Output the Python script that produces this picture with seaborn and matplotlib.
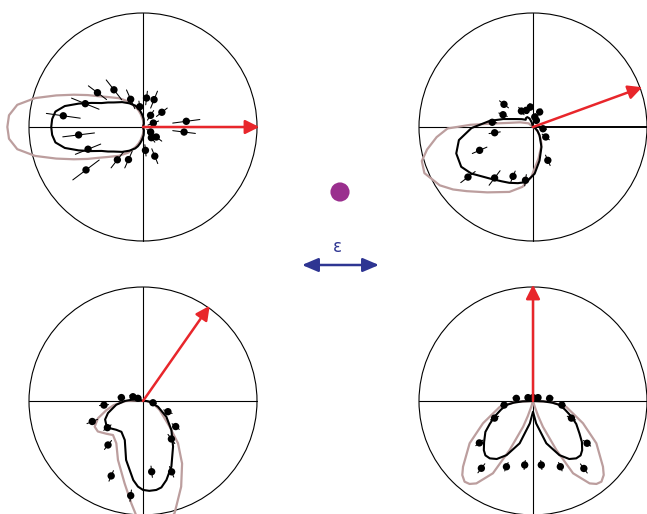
import numpy as np
import matplotlib
matplotlib.use("Agg")
import matplotlib.pyplot as plt
import seaborn as sns

sns.set_style("white")
plt.rcParams["font.family"] = ["DejaVu Sans"]

# ---------------- data (polar angles in degrees, radii in units of the circle) ----------------
# Panel 1: field along 0 deg
p1_field_deg = 0.0
p1_black_deg = [60, 75, 85, 90, 95, 100, 105, 110, 120, 130, 140, 145, 150, 155, 160, 165, 170, 175, 180,
                185, 190, 195, 200, 205, 210, 215, 220, 230, 240, 250, 255, 260, 265, 270, 275, 285, 300]
p1_black_r = [0.0, 0.03, 0.07, 0.09, 0.115, 0.145, 0.175, 0.20, 0.24, 0.285, 0.335, 0.375, 0.42, 0.50, 0.60,
              0.71, 0.78, 0.80, 0.805,
              0.80, 0.78, 0.71, 0.60, 0.50, 0.42, 0.375, 0.335, 0.285, 0.24, 0.20, 0.175, 0.145, 0.115, 0.09,
              0.07, 0.03, 0.0]
p1_pink_deg = [70, 80, 90, 95, 100, 105, 110, 120, 130, 140, 145, 150, 155, 160, 165, 170, 175, 180,
               185, 190, 195, 200, 205, 210, 215, 220, 230, 240, 250, 255, 260, 265, 270, 280, 290]
p1_pink_r = [0.0, 0.03, 0.06, 0.08, 0.115, 0.15, 0.185, 0.26, 0.33, 0.41, 0.47, 0.56, 0.67, 0.81, 0.98, 1.12,
             1.18, 1.19,
             1.18, 1.12, 0.98, 0.81, 0.67, 0.56, 0.47, 0.41, 0.33, 0.26, 0.185, 0.15, 0.115, 0.08, 0.06, 0.03,
             0.0]
p1_pt_deg = [143, 128, 158, 172, 187, 202, 217, 232, 246, 276, 292, 308, 323, 327, 21, 57, 38, 83, 68, 114,
             99, 7.5, 353]
p1_pt_r = [0.50, 0.414, 0.546, 0.706, 0.569, 0.52, 0.626, 0.365, 0.313, 0.206, 0.276, 0.119, 0.146, 0.08,
           0.097, 0.122, 0.21, 0.256, 0.259, 0.266, 0.18, 0.383, 0.363]
p1_pt_err = [0.10, 0.11, 0.13, 0.15, 0.14, 0.12, 0.145, 0.09, 0.08, 0.05, 0.07, 0.05, 0.06, 0.04, 0.05, 0.05,
             0.06, 0.06, 0.08, 0.09, 0.05, 0.12, 0.10]

# Panel 2: field along 20 deg
p2_field_deg = 20.0
p2_black_deg = [95, 105, 112, 120, 128, 135, 145, 155, 165, 172, 181, 190, 199, 209, 217, 230, 240, 247, 255,
                263, 272, 281, 293, 308, 320, 335, 350]
p2_black_r = [0.0, 0.04, 0.08, 0.10, 0.10, 0.09, 0.12, 0.165, 0.27, 0.384, 0.54, 0.66, 0.712, 0.72, 0.678,
              0.59, 0.55, 0.532, 0.51, 0.486, 0.41, 0.30, 0.19, 0.093, 0.05, 0.02, 0.0]
p2_pink_deg = [120, 140, 150, 160, 170, 175, 178, 181, 186, 192, 197, 203, 212, 218, 224, 235, 250, 260, 268,
               280, 290, 297, 305, 315, 330, 345]
p2_pink_r = [0.0, 0.05, 0.07, 0.12, 0.21, 0.35, 0.55, 0.75, 0.85, 0.95, 1.02, 1.035, 0.965, 0.89, 0.81, 0.70,
             0.606, 0.533, 0.44, 0.28, 0.20, 0.163, 0.11, 0.062, 0.02, 0.0]
p2_pt_deg = [142, 157.7, 126, 97.6, 112, 66, 63, 350, 322, 294, 262, 248, 233, 217.6, 203.6, 188.5, 173.4, 80]
p2_pt_r = [0.323, 0.284, 0.173, 0.177, 0.157, 0.144, 0.065, 0.089, 0.142, 0.32, 0.472, 0.467, 0.56, 0.72,
           0.511, 0.34, 0.36, 0.089]
p2_pt_err = [0.05, 0.04, 0.04, 0.03, 0.03, 0.03, 0.02, 0.03, 0.04, 0.05, 0.05, 0.05, 0.08, 0.08, 0.07, 0.05,
             0.04, 0.03]

# Panel 3: field along 55 deg
p3_field_deg = 55.0
p3_black_deg = [150, 160, 172, 180, 188, 199, 206, 213, 219, 227, 235, 245, 254, 263, 266.6, 270, 274, 278.5,
                282, 286.5, 293.4, 303.4, 314.4, 326, 339, 354, 360, 370]
p3_black_r = [0.0, 0.03, 0.09, 0.16, 0.237, 0.325, 0.37, 0.384, 0.378, 0.345, 0.33, 0.378, 0.538, 0.699, 0.752,
              0.78, 0.79, 0.789, 0.775, 0.723, 0.627, 0.479, 0.356, 0.247, 0.141, 0.058, 0.03, 0.0]
p3_pink_deg = [155, 165, 180, 188, 194, 201, 208, 214, 222, 228.6, 237.8, 247, 257.4, 263.5, 267, 271, 276, 281,
               285.8, 294, 302, 309.6, 316, 331.6, 347, 360, 370]
p3_pink_r = [0.0, 0.03, 0.15, 0.26, 0.331, 0.423, 0.48, 0.478, 0.43, 0.398, 0.439, 0.562, 0.74, 0.904, 1.02,
             1.10, 1.12, 1.10, 1.02, 0.823, 0.647, 0.482, 0.325, 0.166, 0.09, 0.03, 0.0]
p3_pt_deg = [171, 157, 152, 186, 202, 216.8, 231.5, 247, 262.6, 277, 292, 306.8, 322, 336.8, 350]
p3_pt_r = [0.192, 0.096, 0.05, 0.344, 0.48, 0.39, 0.493, 0.714, 0.837, 0.625, 0.67, 0.416, 0.364, 0.238, 0.089]
p3_pt_err = [0.03, 0.03, 0.02, 0.04, 0.05, 0.04, 0.05, 0.05, 0.05, 0.05, 0.05, 0.05, 0.04, 0.04, 0.03]

# Panel 4: field along 90 deg
p4_field_deg = 90.0
p4_black_deg = [180, 182, 185, 188.5, 195, 202, 208, 213, 220, 225, 228.8, 233, 238, 244, 252.5, 262, 270,
                278, 287.5, 296, 302, 307, 311.2, 315, 320, 325, 332, 338, 345, 351.5, 355, 358, 360]
p4_black_r = [0.0, 0.09, 0.17, 0.237, 0.29, 0.363, 0.43, 0.498, 0.56, 0.61, 0.634, 0.63, 0.60, 0.528, 0.389,
              0.198, 0.094,
              0.198, 0.389, 0.528, 0.60, 0.63, 0.634, 0.61, 0.56, 0.498, 0.43, 0.363, 0.29, 0.237, 0.17, 0.09,
              0.0]
p4_pink_deg = [180, 182.4, 190, 204, 213.7, 223.2, 226.3, 229.7, 232.6, 235.5, 241, 244.5, 249, 251, 253, 258,
               282, 287, 289, 291, 295.5, 299, 304.5, 307.4, 310.3, 313.7, 316.8, 326.3, 336, 350, 357.6, 360]
p4_pink_r = [0.0, 0.146, 0.296, 0.48, 0.668, 0.842, 0.898, 0.928, 0.916, 0.877, 0.725, 0.476, 0.242, 0.14,
             0.052, 0.0,
             0.0, 0.052, 0.14, 0.242, 0.476, 0.725, 0.877, 0.916, 0.928, 0.898, 0.842, 0.668, 0.48, 0.296,
             0.146, 0.0]
p4_pt_deg = [171, 9, 188, 352, 204, 336, 218, 322, 232.5, 307, 248, 292.6, 262.6, 277.4, 146, 34, 90]
p4_pt_r = [0.148, 0.148, 0.256, 0.256, 0.369, 0.369, 0.597, 0.602, 0.744, 0.741, 0.622, 0.624, 0.566, 0.566,
           0.053, 0.053, 0.03]
p4_pt_err = [0.03, 0.03, 0.03, 0.03, 0.04, 0.04, 0.04, 0.04, 0.05, 0.05, 0.04, 0.04, 0.04, 0.04, 0.02, 0.02,
             0.02]

panels = [
    dict(center=(143, 127), field=p1_field_deg, black=(p1_black_deg, p1_black_r), pink=(p1_pink_deg, p1_pink_r),
         pts=(p1_pt_deg, p1_pt_r, p1_pt_err), bold_right_axis=False),
    dict(center=(533, 127), field=p2_field_deg, black=(p2_black_deg, p2_black_r), pink=(p2_pink_deg, p2_pink_r),
         pts=(p2_pt_deg, p2_pt_r, p2_pt_err), bold_right_axis=True),
    dict(center=(143, 401), field=p3_field_deg, black=(p3_black_deg, p3_black_r), pink=(p3_pink_deg, p3_pink_r),
         pts=(p3_pt_deg, p3_pt_r, p3_pt_err), bold_right_axis=False),
    dict(center=(533, 401), field=p4_field_deg, black=(p4_black_deg, p4_black_r), pink=(p4_pink_deg, p4_pink_r),
         pts=(p4_pt_deg, p4_pt_r, p4_pt_err), bold_right_axis=False),
]

# ---------------- styling ----------------
W, H = 647, 514
R_PX = 114          # circle radius in pixels
LIM = 1.3           # data half-range of each panel
RED = "#e8262b"
PINK = "#bc9e9e"
BLUE = "#2e3592"
PURPLE = "#9a2f8e"


def to_xy(deg, r):
    a = np.radians(np.asarray(deg, dtype=float))
    r = np.asarray(r, dtype=float)
    return r * np.cos(a), r * np.sin(a)


fig = plt.figure(figsize=(W / 100, H / 100), dpi=100)
fig.patch.set_facecolor("white")

# Background axes in pixel coordinates for the central symbols
bg = fig.add_axes([0, 0, 1, 1])
bg.set_xlim(0, W)
bg.set_ylim(H, 0)
bg.axis("off")
sns.scatterplot(x=[340], y=[192], s=190, color=PURPLE, edgecolor="none", ax=bg, legend=False)
bg.text(337, 247, "ε", color=BLUE, fontsize=12, ha="center", va="center")
bg.annotate("", xy=(379, 265), xytext=(302, 265),
            arrowprops=dict(arrowstyle="<|-|>,head_length=0.75,head_width=0.32", color=BLUE, lw=1.8,
                            shrinkA=0, shrinkB=0, mutation_scale=13))

for p in panels:
    cx, cy = p["center"]
    side = 2 * LIM * R_PX
    ax = fig.add_axes([(cx - LIM * R_PX) / W, (H - cy - LIM * R_PX) / H, side / W, side / H])
    ax.set_xlim(-LIM, LIM)
    ax.set_ylim(-LIM, LIM)
    ax.axis("off")
    ax.patch.set_alpha(0)

    # frame circle and axes through the origin
    ax.add_patch(plt.Circle((0, 0), 1.0, fill=False, color="black", lw=0.8))
    ax.plot([-1, 0], [0, 0], color="black", lw=0.8)
    ax.plot([0, 1], [0, 0], color="black", lw=1.4 if p["bold_right_axis"] else 0.8)
    ax.plot([0, 0], [-1, 1], color="black", lw=0.8)

    # model curves
    bx, by = to_xy(*p["pink"])
    sns.lineplot(x=bx, y=by, sort=False, estimator=None, color=PINK, lw=1.6, ax=ax)
    kx, ky = to_xy(*p["black"])
    sns.lineplot(x=kx, y=ky, sort=False, estimator=None, color="black", lw=1.5, ax=ax)

    # measured points with radial error bars
    deg, r, err = (np.asarray(v, dtype=float) for v in p["pts"])
    x0, y0 = to_xy(deg, r - err)
    x1, y1 = to_xy(deg, r + err)
    for a, b, c, d in zip(x0, x1, y0, y1):
        ax.plot([a, b], [c, d], color="black", lw=0.75)
    px, py = to_xy(deg, r)
    sns.scatterplot(x=px, y=py, s=28, color="black", edgecolor="none", ax=ax, legend=False, zorder=4)

    # field direction arrow
    fx, fy = to_xy(p["field"], 1.02)
    ax.annotate("", xy=(float(fx), float(fy)), xytext=(0, 0),
                arrowprops=dict(arrowstyle="-|>,head_length=0.6,head_width=0.3", color=RED, lw=1.8,
                                shrinkA=0, shrinkB=0, mutation_scale=14), zorder=5)

fig.savefig("out.png", dpi=100, facecolor="white")
